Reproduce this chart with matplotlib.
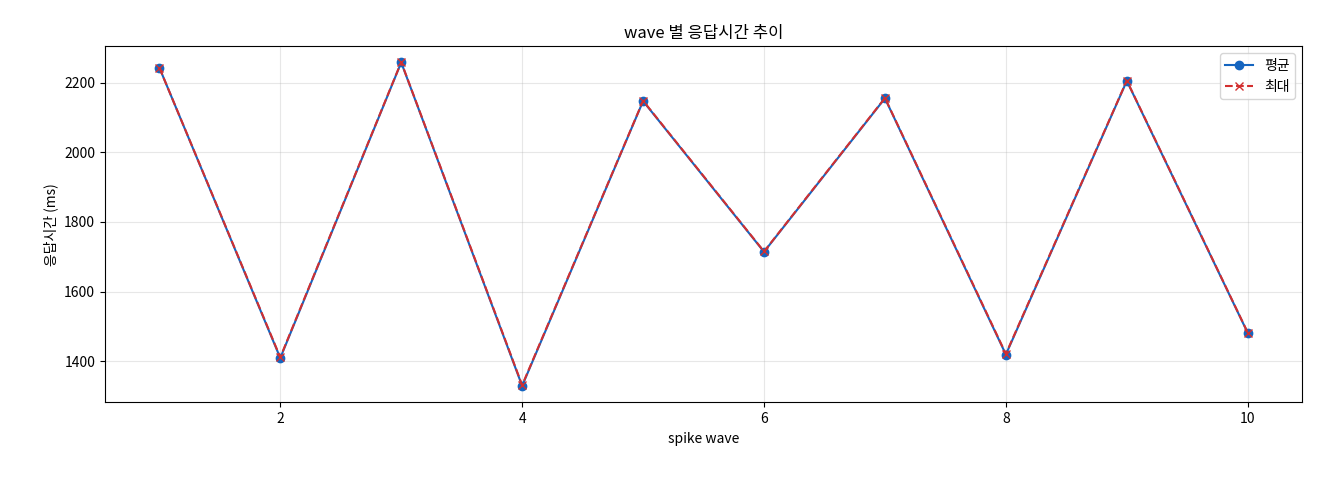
import matplotlib
matplotlib.use("Agg")
import matplotlib.pyplot as plt

plt.rcParams['font.family'] = ['Noto Sans CJK KR', 'DejaVu Sans']
plt.rcParams['axes.unicode_minus'] = False

waves = [1, 2, 3, 4, 5, 6, 7, 8, 9, 10]
avg_ms = [2243, 1409, 2258, 1329, 2147, 1714, 2155, 1419, 2205, 1481]
max_ms = [2243, 1411, 2259, 1331, 2148, 1715, 2156, 1421, 2206, 1482]

fig = plt.figure(figsize=(13.2, 4.8), dpi=100)
ax = fig.add_axes([0.0795, 0.162, 0.907, 0.742])
ax.plot(waves, avg_ms, '-o', color='#1565c0', label='평균', markersize=6)
ax.plot(waves, max_ms, '--x', color='#d32f2f', label='최대', markersize=6)
ax.set_title('wave 별 응답시간 추이', fontsize=12)
ax.set_xlabel('spike wave', fontsize=10)
ax.set_ylabel('응답시간 (ms)', fontsize=10)
ax.grid(True, alpha=0.3)
ax.set_xlim(0.55, 10.45)
ax.set_ylim(1282, 2305)
ax.legend(loc='upper right')
fig.savefig('out.png', dpi=100)
